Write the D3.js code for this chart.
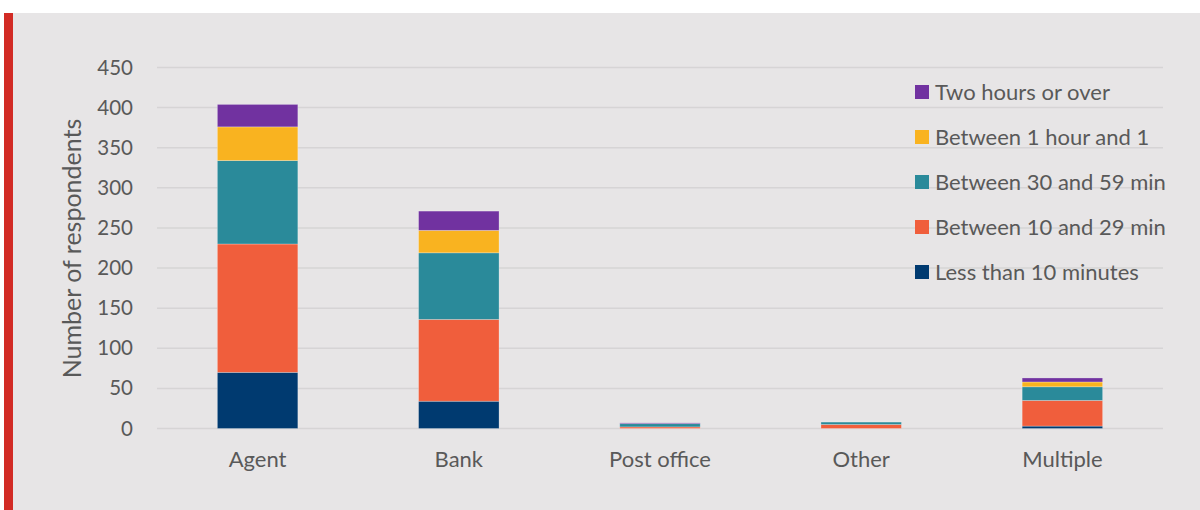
<!DOCTYPE html>
<html>
<head>
<meta charset="utf-8">
<script src="https://cdn.jsdelivr.net/npm/d3@7"></script>
<style>
  html, body { margin: 0; padding: 0; background: #ffffff; }
  svg { display: block; }
  text { font-family: Lato, "Open Sans", sans-serif; fill: #595959; }
</style>
</head>
<body>
<svg id="chart" width="1200" height="510"></svg>
<script>
// Access point used by respondents
const categories = ["Agent", "Bank", "Post office", "Other", "Multiple"];

// Waiting time bands, bottom of the stack first
const seriesNames = [
  "Less than 10 minutes",
  "Between 10 and 29 min",
  "Between 30 and 59 min",
  "Between 1 hour and 1",
  "Two hours or over"
];

// Number of respondents per band, one value per category
const lessThan10 = [70, 34, 0, 0, 3];
const between10and29 = [160, 102, 2, 5, 32];
const between30and59 = [104, 83, 4, 3, 17];
const between1hAnd1 = [42, 28, 0, 0, 6];
const twoHoursOrOver = [28, 24, 1, 0, 5];

const yTicks = [0, 50, 100, 150, 200, 250, 300, 350, 400, 450];

const colors = ["#003a70", "#f05e3c", "#2a8a9a", "#f9b320", "#7132a0"];

const seriesValues = [lessThan10, between10and29, between30and59, between1hAnd1, twoHoursOrOver];
const rows = categories.map((c, i) => {
  const r = { category: c };
  seriesNames.forEach((s, j) => { r[s] = seriesValues[j][i]; });
  return r;
});

const svg = d3.select("#chart");
const W = 1200, H = 510;

// Panel background and red accent bar
svg.append("rect").attr("x", 13).attr("y", 13).attr("width", W - 13).attr("height", H - 13).attr("fill", "#e7e5e6");
svg.append("rect").attr("x", 4).attr("y", 13).attr("width", 9).attr("height", H - 13).attr("fill", "#d22b25");

const plot = { left: 157, right: 1163, top: 67.5, bottom: 428.5 };

const x = d3.scaleBand().domain(categories).range([plot.left, plot.right]).paddingInner(0.6).paddingOuter(0.3);
const y = d3.scaleLinear().domain([0, 450]).range([plot.bottom, plot.top]);

// Gridlines
svg.append("g").selectAll("line").data(yTicks).join("line")
  .attr("x1", plot.left).attr("x2", plot.right)
  .attr("y1", d => y(d)).attr("y2", d => y(d))
  .attr("stroke", "#d6d4d5").attr("stroke-width", 1.5);

// Y axis labels
const yAxis = d3.axisLeft(y).tickValues(yTicks).tickSize(0).tickPadding(0);
const yG = svg.append("g").attr("transform", `translate(${plot.left - 24},0)`).call(yAxis);
yG.select(".domain").remove();
yG.selectAll("text").attr("font-size", 20.5).attr("fill", "#595959").style("font-family", "Lato, sans-serif");

// X axis labels
const xAxis = d3.axisBottom(x).tickSize(0).tickPadding(0);
const xG = svg.append("g").attr("transform", `translate(0,${plot.bottom + 23})`).call(xAxis);
xG.select(".domain").remove();
xG.selectAll("text").attr("font-size", 22).attr("fill", "#595959").style("font-family", "Lato, sans-serif");

// Y axis title
svg.append("text")
  .attr("transform", `translate(81,248.5) rotate(-90)`)
  .attr("text-anchor", "middle")
  .attr("font-size", 25)
  .text("Number of respondents");

// Stacked bars
const stacked = d3.stack().keys(seriesNames)(rows);
svg.append("g").selectAll("g").data(stacked).join("g")
  .attr("fill", (d, i) => colors[i])
  .selectAll("rect").data(d => d).join("rect")
  .attr("x", d => x(d.data.category))
  .attr("width", x.bandwidth())
  .attr("y", d => y(d[1]))
  .attr("height", d => y(d[0]) - y(d[1]))
  .attr("stroke", "rgba(255,255,255,0.35)")
  .attr("stroke-width", 0.75);

// Legend, top entry is the top of the stack
const legendOrder = seriesNames.map((s, i) => ({ name: s, color: colors[i] })).reverse();
const lg = svg.append("g").attr("transform", "translate(915,0)");
const items = lg.selectAll("g").data(legendOrder).join("g")
  .attr("transform", (d, i) => `translate(0,${92 + i * 45})`);
items.append("rect").attr("x", 0).attr("y", -7).attr("width", 14).attr("height", 14).attr("fill", d => d.color);
items.append("text").attr("x", 20).attr("dy", "0.35em").attr("font-size", 22).text(d => d.name);
</script>
</body>
</html>
